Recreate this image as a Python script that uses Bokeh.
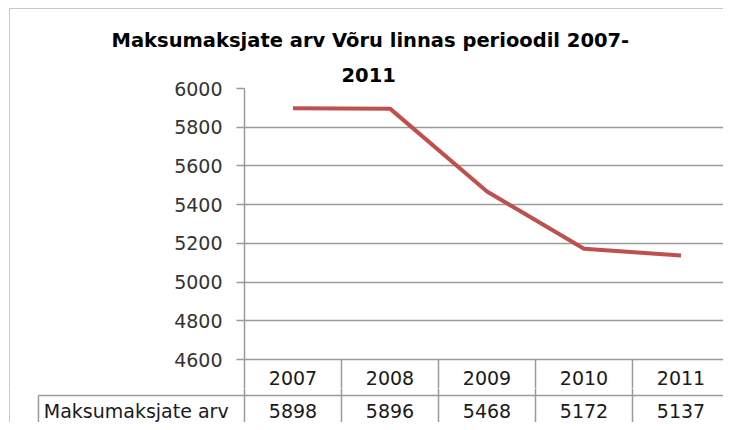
from bokeh.plotting import figure
from bokeh.layouts import column
from bokeh.models import Range1d, FixedTicker, Title, ColumnDataSource
from bokeh.embed import file_html
from bokeh.resources import INLINE
from bokeh.core.properties import value

# ---- data ----
title_lines = ["Maksumaksjate arv Võru linnas perioodil 2007-", "2011"]
years = ["2007", "2008", "2009", "2010", "2011"]
taxpayers = [5898, 5896, 5468, 5172, 5137]
y_ticks = [4600, 4800, 5000, 5200, 5400, 5600, 5800, 6000]
row_label = "Maksumaksjate arv"

# ---- style constants ----
FONT = "DejaVu Sans"
FS = "19px"
GRID = "#9a9a9a"
FRAME_GREY = "#c8c8c8"
TXT = "#1a1a1a"
W = 723
COL_PX = 97          # width of one category column in px
LEFT = 244           # x of the value axis
X_END = (W - LEFT) / COL_PX
PX_PER_UNIT = 271 / 1400.0   # vertical scale of the value axis

xs = [i + 0.5 for i in range(len(years))]        # category centres
bounds = list(range(len(years)))                  # column boundaries

# ================= chart (+ header row of the table) =================
HA = 388
TOP = 88
y_start = y_ticks[-1] - (HA - TOP) / PX_PER_UNIT
Y_HEADER = y_ticks[0] - 18 / PX_PER_UNIT

pa = figure(width=W, height=HA,
            x_range=Range1d(0, X_END), y_range=Range1d(y_start, y_ticks[-1]),
            output_backend="svg", toolbar_location=None,
            x_axis_location=None, title=None, min_border=0)
pa.frame_align = False
pa.min_border_left = LEFT
pa.min_border_right = 0
pa.min_border_top = TOP
pa.min_border_bottom = 0
pa.outline_line_color = None
pa.border_fill_alpha = 0
pa.background_fill_color = "white"
# faint outer chart border (top and left edge)
pa.styles = {
    "background-color": "white",
    "background-image": f"linear-gradient({FRAME_GREY},{FRAME_GREY}), linear-gradient({FRAME_GREY},{FRAME_GREY})",
    "background-size": "1px 100%, 100% 1px",
    "background-position": "9px 8px, 9px 8px",
    "background-repeat": "no-repeat",
}

ax = pa.yaxis[0]
ax.ticker = FixedTicker(ticks=y_ticks)
ax.axis_line_color = GRID
ax.axis_line_width = 1.5
ax.major_tick_line_color = GRID
ax.major_tick_line_width = 1.5
ax.major_tick_out = 8
ax.major_tick_in = 0
ax.minor_tick_line_color = None
ax.major_label_standoff = 14
ax.major_label_text_font = FONT
ax.major_label_text_font_size = FS
ax.major_label_text_color = "#333333"

pa.xgrid.visible = False
pa.ygrid.grid_line_color = GRID
pa.ygrid.grid_line_width = 1.5

src = ColumnDataSource(dict(x=xs, year=years, val=taxpayers,
                            lab=[str(v) for v in taxpayers]))
pa.line("x", "val", source=src, line_color="#c0504d", line_width=4)

# header row of the data table
pa.segment(x0=bounds[1:], y0=y_start, x1=bounds[1:], y1=y_ticks[0],
           line_color=GRID, line_width=1.5)
pa.text(x="x", y=Y_HEADER, text="year", source=src, text_align="center",
        text_baseline="middle", text_font=value(FONT), text_font_size=FS,
        text_color=TXT)

pa.add_layout(Title(text=title_lines[1], align="left", offset=97,
                    text_font=FONT, text_font_style="bold",
                    text_font_size="19.5px", text_color="black", standoff=14), "above")
pa.add_layout(Title(text=title_lines[0], align="left", offset=-133,
                    text_font=FONT, text_font_style="bold",
                    text_font_size="19.5px", text_color="black", standoff=14), "above")

# ================= value row of the data table =================
HB = 422 - HA
ROW_H = 36.0
pb = figure(width=W, height=HB,
            x_range=Range1d(-LEFT / COL_PX, X_END),
            y_range=Range1d(1 + (422 - 395) / ROW_H, 1 - (395 - HA) / ROW_H),
            output_backend="svg", toolbar_location=None,
            x_axis_location=None, y_axis_location=None, title=None, min_border=0)
pb.frame_align = False
pb.outline_line_color = None
pb.border_fill_color = "white"
pb.background_fill_color = "white"
pb.grid.visible = False

CELL_LEFT = -2.124
OUTER_LEFT = -2.423
pb.segment(x0=bounds, y0=0, x1=bounds, y1=2, line_color=GRID, line_width=1.5)
pb.segment(x0=[CELL_LEFT], y0=[1], x1=[X_END + 0.1], y1=[1], line_color=GRID, line_width=1.5)
pb.segment(x0=[CELL_LEFT], y0=[1], x1=[CELL_LEFT], y1=[2], line_color=GRID, line_width=1.5)
pb.segment(x0=[OUTER_LEFT], y0=[0], x1=[OUTER_LEFT], y1=[2], line_color=FRAME_GREY, line_width=1)

pb.text(x="x", y=1.44, text="lab", source=src, text_align="center",
        text_baseline="middle", text_font=value(FONT), text_font_size=FS,
        text_color=TXT)
pb.text(x=[CELL_LEFT + 0.055], y=[1.44], text=[row_label], text_align="left",
        text_baseline="middle", text_font=value(FONT), text_font_size=FS,
        text_color=TXT)

layout = column(pa, pb, spacing=0)

open("out.html", "w").write(file_html(layout, INLINE))
